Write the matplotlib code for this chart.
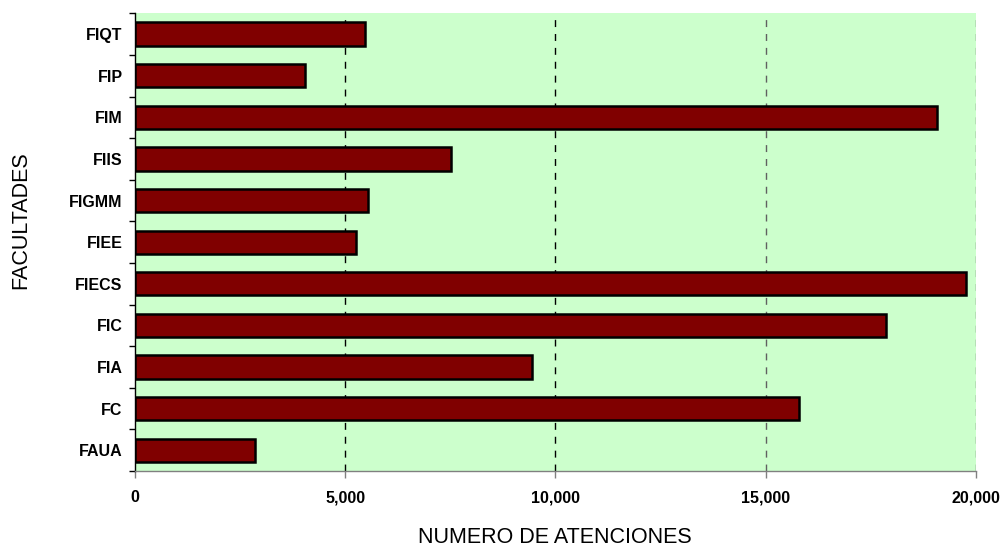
import matplotlib
matplotlib.use("Agg")
import matplotlib.pyplot as plt

categories = ["FAUA", "FC", "FIA", "FIC", "FIECS", "FIEE", "FIGMM", "FIIS", "FIM", "FIP", "FIQT"]
values = [2855, 15800, 9440, 17860, 19780, 5265, 5550, 7510, 19075, 4045, 5480]
xticks = [0, 5000, 10000, 15000, 20000]
xtick_labels = ["0", "5,000", "10,000", "15,000", "20,000"]

plt.rcParams['font.family'] = ['Liberation Sans', 'DejaVu Sans']

W, H = 1001, 546
fig = plt.figure(figsize=(W / 100, H / 100), dpi=100)
ax = fig.add_axes([0.1349, 0.1374, 0.8398, 0.8382])
ax.set_facecolor('#CCFFCC')

ypos = list(range(len(categories)))
ax.barh(ypos, values, height=0.56, color='#800000', edgecolor='black', linewidth=1.8, zorder=3)

ax.set_xlim(0, 20000)
ax.set_ylim(-0.5, len(categories) - 0.5)

ax.set_xticks(xticks)
ax.set_xticklabels(xtick_labels, fontsize=11.5, fontweight='bold')
ax.set_yticks(ypos)
ax.set_yticklabels(categories, fontsize=11.5, fontweight='bold')
ax.tick_params(axis='y', length=0, pad=9)
ax.set_yticks([y - 0.5 for y in range(len(categories) + 1)], minor=True)
ax.tick_params(axis='y', which='minor', length=4, width=1, color='black')
ax.tick_params(axis='x', length=5, width=1, color='#808080', pad=9)

for x in xticks[1:]:
    ax.axvline(x, color='black' if x < 15000 else '#606060', linestyle=(0, (5, 5)), linewidth=1, zorder=1)

for s in ['top', 'right']:
    ax.spines[s].set_visible(False)
ax.spines['left'].set_color('black')
ax.spines['left'].set_linewidth(1)
ax.spines['bottom'].set_color('#808080')
ax.spines['bottom'].set_linewidth(1)

fig.text(555 / W, 1 - 543 / H, "NUMERO DE ATENCIONES", fontsize=15.5,
         ha='center', va='baseline')
fig.text(21 / W, 1 - 220 / H, "FACULTADES", fontsize=15.5, rotation=90,
         ha='center', va='center')

fig.savefig("out.png", dpi=100)
